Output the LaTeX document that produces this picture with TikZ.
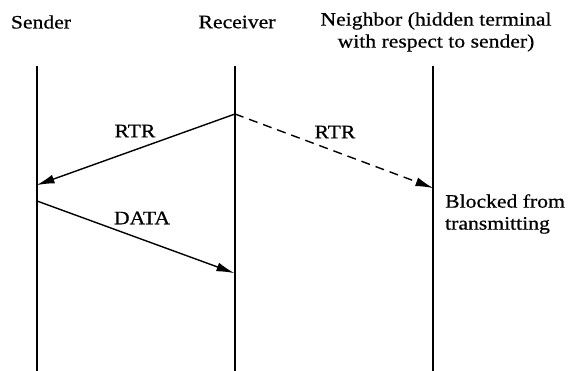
\documentclass[tikz,border=0pt]{standalone}
\usepackage{fontspec}
\setmainfont{Liberation Serif}[FakeStretch=1.14,FakeBold=0.6]
\usetikzlibrary{arrows.meta}
\begin{document}
\begin{tikzpicture}[x=1pt,y=-1pt,
  lbl/.style={font=\fontsize{19}{22}\selectfont, inner sep=0pt},
  life/.style={line width=1.4pt},
  msg/.style={line width=1.4pt, -{Latex[length=18pt,width=9pt]}, shorten >=-0.5pt}]
\useasboundingbox[fill=white] (0,0) rectangle (568,371);
% titles
\node[lbl] (ts) at (41,22) {Sender};
\node[lbl] (tr) at (237,22) {Receiver};
\node[lbl, align=center] (tn) at (436,32) {Neighbor (hidden terminal\\with respect to sender)};
% lifelines
\coordinate (s0) at (37,66); \coordinate (s1) at (37,371);
\coordinate (r0) at (235,66); \coordinate (r1) at (235,371);
\coordinate (n0) at (433,66); \coordinate (n1) at (433,371);
\draw[life] (s0) -- (s1);
\draw[life] (r0) -- (r1);
\draw[life] (n0) -- (n1);
% message points
\coordinate (rA) at (235,114);
\coordinate (sA) at (37,185);
\coordinate (nA) at (433,188);
\coordinate (sB) at (37,201);
\coordinate (rB) at (234,273);
\draw[msg] (rA) -- (sA);
\draw[msg, dashed, dash pattern=on 9pt off 6pt] (rA) -- (nA);
\draw[msg] (sB) -- (rB);
% labels
\node[lbl] (l1) at (135,131) {RTR};
\node[lbl] (l2) at (335,132) {RTR};
\node[lbl] (l3) at (142,218) {DATA};
\node[lbl, align=left, anchor=west] (bl) at (445,214) {Blocked from\\transmitting};
\end{tikzpicture}
\end{document}
